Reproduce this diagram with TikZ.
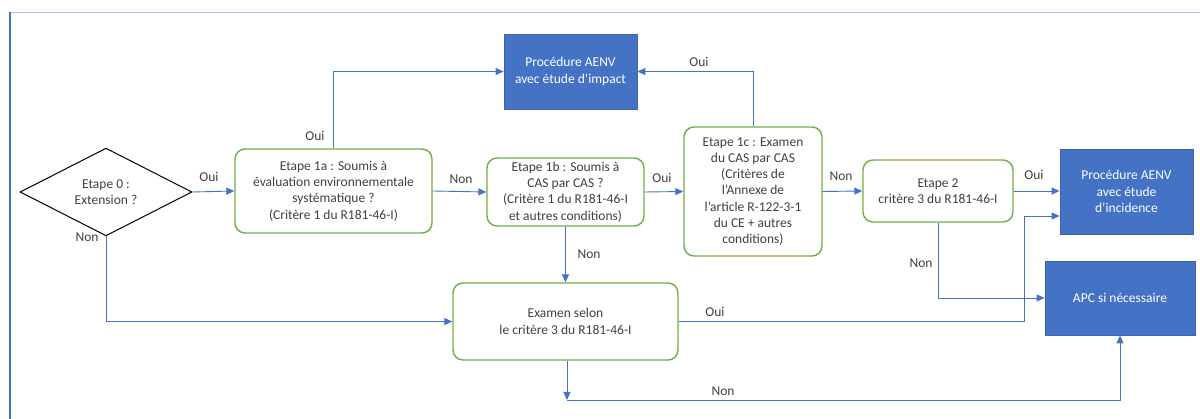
\documentclass[tikz,border=0pt]{standalone}
\usepackage{fontspec}
\setmainfont{Carlito}
\usetikzlibrary{shapes.geometric,arrows.meta}
\definecolor{cblue}{HTML}{4472C4}
\definecolor{cborder}{HTML}{3A64B0}
\definecolor{cgreen}{HTML}{70AD47}
\definecolor{ctext}{HTML}{404040}
\definecolor{cframe}{HTML}{A9BEE3}
\begin{document}
\begin{tikzpicture}[x=1pt,y=-1pt,
  every node/.style={font=\fontsize{13.5}{16.3}\selectfont},
  stepbox/.style={draw=cgreen, line width=1.4pt, rounded corners=10pt, align=center, text=ctext, inner sep=0pt},
  endbox/.style={draw=cborder, fill=cblue, text=white, align=center, line width=0.8pt, inner sep=0pt},
  conn/.style={draw=cblue, line width=0.9pt},
  arr/.style={conn, -{Triangle[length=8pt,width=7pt]}},
  lbl/.style={text=ctext, inner sep=0pt},
  decision/.style={diamond, draw=black, line width=1pt, text=ctext, align=center, inner sep=0pt}
]
\useasboundingbox (0,0) rectangle (1200,419);
\fill[white] (0,0) rectangle (1200,419);
% frame
\coordinate (fr) at (10,12);
\draw[cframe, line width=0.9pt] (fr) -- (1200,12);
\draw[cblue, line width=1.4pt] (fr) -- (10,419);

% nodes
\node[decision, minimum width=172pt, minimum height=74pt] (d0) at (106,192) {Etape 0 :\\Extension ?};
\node[stepbox, minimum width=197pt, minimum height=84pt] (e1a) at (333.5,191) {Etape 1a : Soumis à\\évaluation environnementale\\systématique ?\\(Critère 1 du R181-46-I)};
\node[endbox, minimum width=133pt, minimum height=75pt] (aenv1) at (570.5,71.5) {Procédure AENV\\avec étude d’impact};
\node[stepbox, minimum width=157pt, minimum height=68pt] (e1b) at (565.5,192) {Etape 1b : Soumis à\\CAS par CAS ?\\(Critère 1 du R181-46-I\\et autres conditions)};
\node[stepbox, minimum width=138pt, minimum height=129pt] (e1c) at (753,191.5) {Etape 1c : Examen\\du CAS par CAS\\(Critères de\\l’Annexe de\\l’article R-122-3-1\\du CE + autres\\conditions)};
\node[stepbox, minimum width=150pt, minimum height=62pt] (e2) at (938,191) {Etape 2\\critère 3 du R181-46-I};
\node[endbox, minimum width=133pt, minimum height=85pt] (aenv2) at (1126.5,191.5) {Procédure AENV\\avec étude\\d’incidence};
\node[endbox, minimum width=150pt, minimum height=74pt] (apc) at (1120,298) {APC si nécessaire};
\node[stepbox, minimum width=225pt, minimum height=77pt] (exam) at (565.5,321.5) {Examen selon\\le critère 3 du R181-46-I};

% helper coordinates
\coordinate (k1) at (1024,216);
\coordinate (k2) at (567,400);

% connectors
\draw[arr] (d0.east) -- (e1a.west);
\draw[arr] (e1a.north) |- (aenv1.west);
\draw[arr] (e1a.east) -- (e1b.west);
\draw[arr] (e1b.east) -- (e1c.west);
\draw[arr] (e1c.north) |- (aenv1.east);
\draw[arr] (e1c.east) -- (e2.west);
\draw[arr] (e2.east) -- (e2.east -| aenv2.west);
\draw[arr] (e2.south) |- (apc.west);
\draw[arr] (d0.south) |- (exam.west);
\draw[arr] (e1b.south) -- (e1b.south |- exam.north);
\draw[arr] (exam.east) -| (k1) -- (k1 -| aenv2.west);
\draw[arr] (exam.south -| k2) -- (k2);
\draw[arr] (k2) -| (apc.south);

% labels
\node[lbl] (l1) at (209,177) {Oui};
\node[lbl] (l2) at (87,237) {Non};
\node[lbl] (l3) at (315,136) {Oui};
\node[lbl] (l4) at (461,179) {Non};
\node[lbl] (l5) at (662,178) {Oui};
\node[lbl] (l6) at (699,62) {Oui};
\node[lbl] (l7) at (589,254) {Non};
\node[lbl] (l8) at (715,312) {Oui};
\node[lbl] (l9) at (723,391) {Non};
\node[lbl] (l10) at (841,176) {Non};
\node[lbl] (l11) at (1034,175) {Oui};
\node[lbl] (l12) at (921,263) {Non};
\end{tikzpicture}
\end{document}
